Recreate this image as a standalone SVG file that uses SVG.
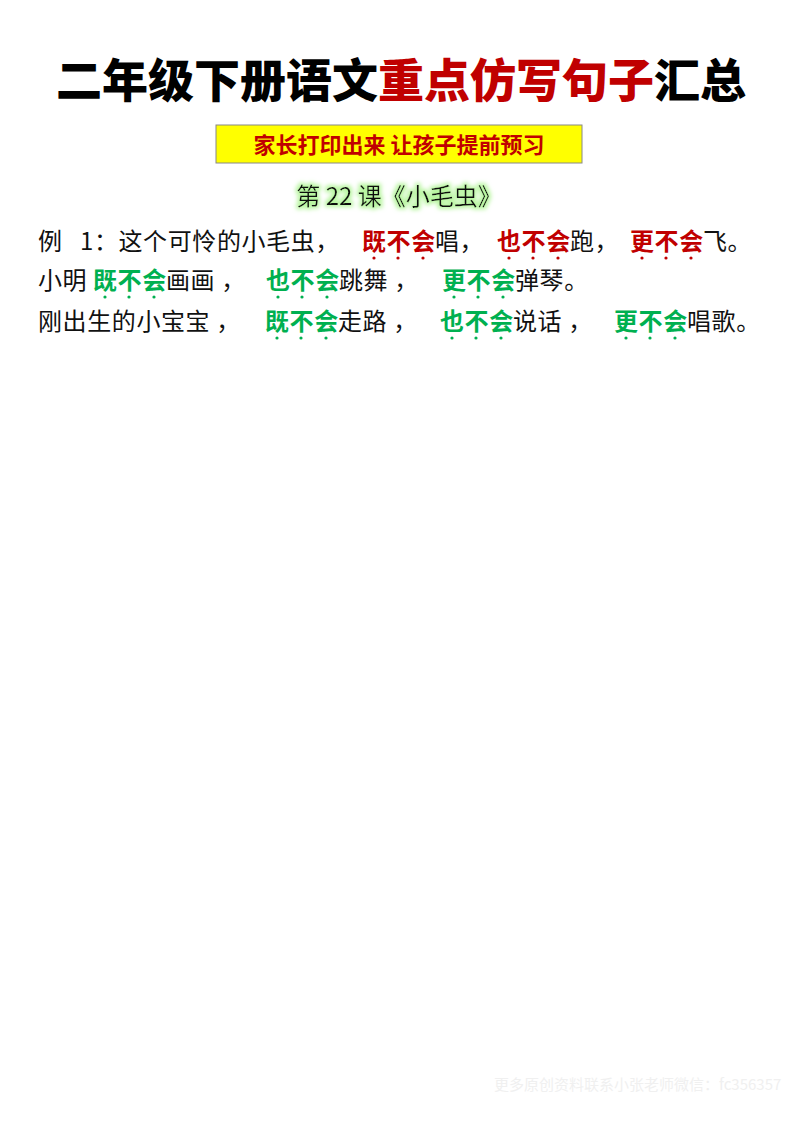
<svg xmlns="http://www.w3.org/2000/svg" width="800" height="1132" viewBox="0 0 800 1132">
<defs>
<style>
text{font-family:"Noto Sans CJK SC",sans-serif}
.b{font-size:24px;fill:#111;letter-spacing:0.6px}
.r{fill:#c00000;font-weight:bold}
.g{fill:#00b050;font-weight:bold}
.dr{fill:#c00000}
.dg{fill:#00b050}
</style>
<filter id="glow" x="-10%" y="-30%" width="120%" height="160%">
<feMorphology in="SourceAlpha" operator="dilate" radius="1.5" result="d"/>
<feGaussianBlur in="d" stdDeviation="2" result="bl"/>
<feFlood flood-color="#b8f5a0"/>
<feComposite in2="bl" operator="in" result="gl"/>
<feMerge><feMergeNode in="gl"/><feMergeNode in="SourceGraphic"/></feMerge>
</filter>
</defs>
<rect width="800" height="1132" fill="#fff"/>
<text x="401" y="97" text-anchor="middle" font-size="46" font-weight="900" fill="#000">二年级下册语文<tspan fill="#c00000">重点仿写句子</tspan>汇总</text>
<rect x="216" y="125" width="366" height="38" fill="#ffff00" stroke="#888" stroke-width="1"/>
<text x="399" y="153" text-anchor="middle" font-size="22" font-weight="bold" fill="#c00000">家长打印出来  让孩子提前预习</text>
<text x="399" y="205" text-anchor="middle" font-size="24" fill="#111" filter="url(#glow)">第 22 课《小毛虫》</text>
<g class="b">
<text x="38" y="250">例</text><text x="80" y="250">1：这个可怜的小毛虫，</text>
<text x="362" y="250" class="r">既不会</text><text x="435" y="250">唱，</text>
<text x="497" y="250" class="r">也不会</text><text x="570" y="250">跑，</text>
<text x="630" y="250" class="r">更不会</text><text x="703" y="250">飞。</text>
<text x="38" y="289">小明</text><text x="93" y="289" class="g">既不会</text><text x="166" y="289">画画 ，</text>
<text x="266" y="289" class="g">也不会</text><text x="339" y="289">跳舞 ，</text>
<text x="442" y="289" class="g">更不会</text><text x="515" y="289">弹琴。</text>
<text x="38" y="330">刚出生的小宝宝 ，</text><text x="265" y="330" class="g">既不会</text><text x="338" y="330">走路 ，</text>
<text x="440" y="330" class="g">也不会</text><text x="513" y="330">说话 ，</text>
<text x="614" y="330" class="g">更不会</text><text x="687" y="330">唱歌。</text>
</g>
<g>
<circle class="dr" cx="374" cy="258" r="1.6"/><circle class="dr" cx="398" cy="258" r="1.6"/><circle class="dr" cx="423" cy="258" r="1.6"/>
<circle class="dr" cx="509" cy="258" r="1.6"/><circle class="dr" cx="533" cy="258" r="1.6"/><circle class="dr" cx="558" cy="258" r="1.6"/>
<circle class="dr" cx="642" cy="258" r="1.6"/><circle class="dr" cx="666" cy="258" r="1.6"/><circle class="dr" cx="691" cy="258" r="1.6"/>
<circle class="dg" cx="105" cy="297" r="1.6"/><circle class="dg" cx="129" cy="297" r="1.6"/><circle class="dg" cx="154" cy="297" r="1.6"/>
<circle class="dg" cx="278" cy="297" r="1.6"/><circle class="dg" cx="302" cy="297" r="1.6"/><circle class="dg" cx="327" cy="297" r="1.6"/>
<circle class="dg" cx="454" cy="297" r="1.6"/><circle class="dg" cx="478" cy="297" r="1.6"/><circle class="dg" cx="503" cy="297" r="1.6"/>
<circle class="dg" cx="277" cy="338" r="1.6"/><circle class="dg" cx="301" cy="338" r="1.6"/><circle class="dg" cx="326" cy="338" r="1.6"/>
<circle class="dg" cx="452" cy="338" r="1.6"/><circle class="dg" cx="476" cy="338" r="1.6"/><circle class="dg" cx="501" cy="338" r="1.6"/>
<circle class="dg" cx="626" cy="338" r="1.6"/><circle class="dg" cx="650" cy="338" r="1.6"/><circle class="dg" cx="675" cy="338" r="1.6"/>
</g>
<text x="494" y="1090" font-size="15" fill="#f0f0f0" font-family="Noto Sans CJK SC, serif">更多原创资料联系小张老师微信：fc356357</text>
</svg>
